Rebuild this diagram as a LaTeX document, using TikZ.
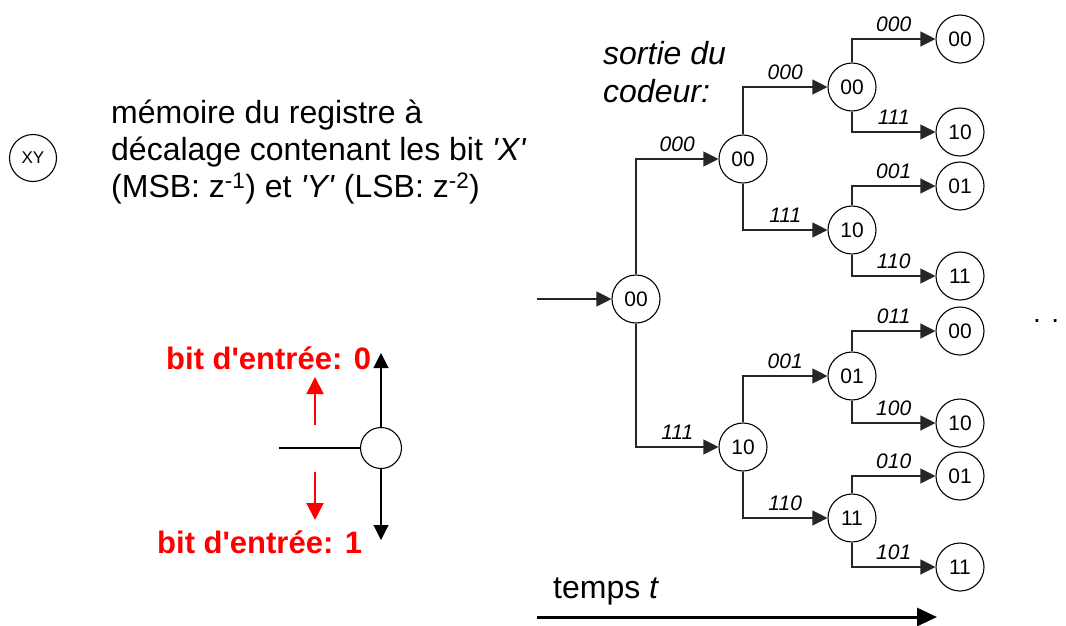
\documentclass[tikz,border=0pt]{standalone}
\usepackage{fontspec}
\setmainfont{Liberation Sans}
\usetikzlibrary{arrows.meta}
\begin{document}
\begin{tikzpicture}[x=1pt,y=-1pt,
  st/.style={circle,draw=black,line width=1.1pt,minimum size=48pt,inner sep=0pt,font=\fontsize{21}{24}\selectfont},
  br/.style={draw=black!85,line width=1.1pt,-{Triangle[length=15pt,width=15pt]}},
  lab/.style={above=7pt,inner sep=0pt,font=\fontsize{21}{24}\selectfont\itshape},
  bigtxt/.style={inner sep=0pt,font=\fontsize{32}{37}\selectfont},
  redtxt/.style={inner sep=0pt,text=red,font=\fontsize{31}{36}\selectfont\bfseries},
  redarr/.style={draw=red,line width=2pt,-{Triangle[length=17pt,width=17pt]}},
  blkarr/.style={draw=black,line width=1.1pt,-{Triangle[length=15pt,width=15pt]}},
  timearr/.style={draw=black,line width=3pt,-{Triangle[length=20pt,width=18pt]}}
]
\useasboundingbox (0,0) rectangle (1066,625);

% legend top-left
\node[circle,draw=black,line width=1.1pt,minimum size=47pt,inner sep=0pt,font=\fontsize{17}{19}\selectfont] (xy) at (33,158) {XY};
\node[bigtxt,anchor=west,align=left] (mem) at (111,152) {m\'emoire du registre \`a\\d\'ecalage contenant les bit \textit{\textquotesingle X\textquotesingle}\\(MSB: z\textsuperscript{-1}) et \textit{\textquotesingle Y\textquotesingle} (LSB: z\textsuperscript{-2})};

% legend bottom-left
\node[circle,draw=black,line width=1.1pt,minimum size=41pt,inner sep=0pt] (leg) at (381,448) {};
\coordinate (legin) at (279,448);
\coordinate (legup) at (381,353);
\coordinate (legdn) at (381,540);
\draw[draw=black,line width=1.1pt] (legin) -- (leg);
\draw[blkarr] (leg.north) -- (legup);
\draw[blkarr] (leg.south) -- (legdn);
\coordinate (ru0) at (315,425);
\coordinate (ru1) at (315,377);
\coordinate (rd0) at (315,472);
\coordinate (rd1) at (315,520);
\draw[redarr] (ru0) -- (ru1);
\draw[redarr] (rd0) -- (rd1);
\node[redtxt,anchor=base west] (b0) at (166,369) {bit d\textquotesingle entr\'ee: 0};
\node[redtxt,anchor=base west] (b1) at (157,553) {bit d\textquotesingle entr\'ee: 1};

% trellis tree
\node[bigtxt,anchor=west,align=left,font=\fontsize{32}{38}\selectfont\itshape] (sortie) at (603,72) {sortie du\\codeur:};

\node[st] (r) at (636,299) {00};
\node[st] (a0) at (743,159) {00};
\node[st] (a1) at (743,447) {10};
\node[st] (b00) at (852,87) {00};
\node[st] (b01) at (852,230) {10};
\node[st] (b10) at (852,376) {01};
\node[st] (b11) at (852,518) {11};
\node[st] (c1) at (960,39) {00};
\node[st] (c2) at (960,132) {10};
\node[st] (c3) at (960,186) {01};
\node[st] (c4) at (960,276) {11};
\node[st] (c5) at (960,331) {00};
\node[st] (c6) at (960,423) {10};
\node[st] (c7) at (960,476) {01};
\node[st] (c8) at (960,567) {11};

\coordinate (in) at (537,299);
\draw[br] (in) -- (r);

\draw[br] (r.north) |- node[lab,pos=0.75]{000} (a0);
\draw[br] (r.south) |- node[lab,pos=0.75]{111} (a1);
\draw[br] (a0.north) |- node[lab,pos=0.75]{000} (b00);
\draw[br] (a0.south) |- node[lab,pos=0.75]{111} (b01);
\draw[br] (a1.north) |- node[lab,pos=0.75]{001} (b10);
\draw[br] (a1.south) |- node[lab,pos=0.75]{110} (b11);
\draw[br] (b00.north) |- node[lab,pos=0.75]{000} (c1);
\draw[br] (b00.south) |- node[lab,pos=0.75]{111} (c2);
\draw[br] (b01.north) |- node[lab,pos=0.75]{001} (c3);
\draw[br] (b01.south) |- node[lab,pos=0.75]{110} (c4);
\draw[br] (b10.north) |- node[lab,pos=0.75]{011} (c5);
\draw[br] (b10.south) |- node[lab,pos=0.75]{100} (c6);
\draw[br] (b11.north) |- node[lab,pos=0.75]{010} (c7);
\draw[br] (b11.south) |- node[lab,pos=0.75]{101} (c8);

\node[inner sep=0pt,anchor=base west,font=\fontsize{28}{30}\selectfont] (dots) at (1033,322) {. . .};

% time axis
\node[bigtxt,anchor=base west] (temps) at (553,598) {temps \textit{t}};
\coordinate (t0) at (537,617);
\coordinate (t1) at (937,617);
\draw[timearr] (t0) -- (t1);
\end{tikzpicture}
\end{document}
